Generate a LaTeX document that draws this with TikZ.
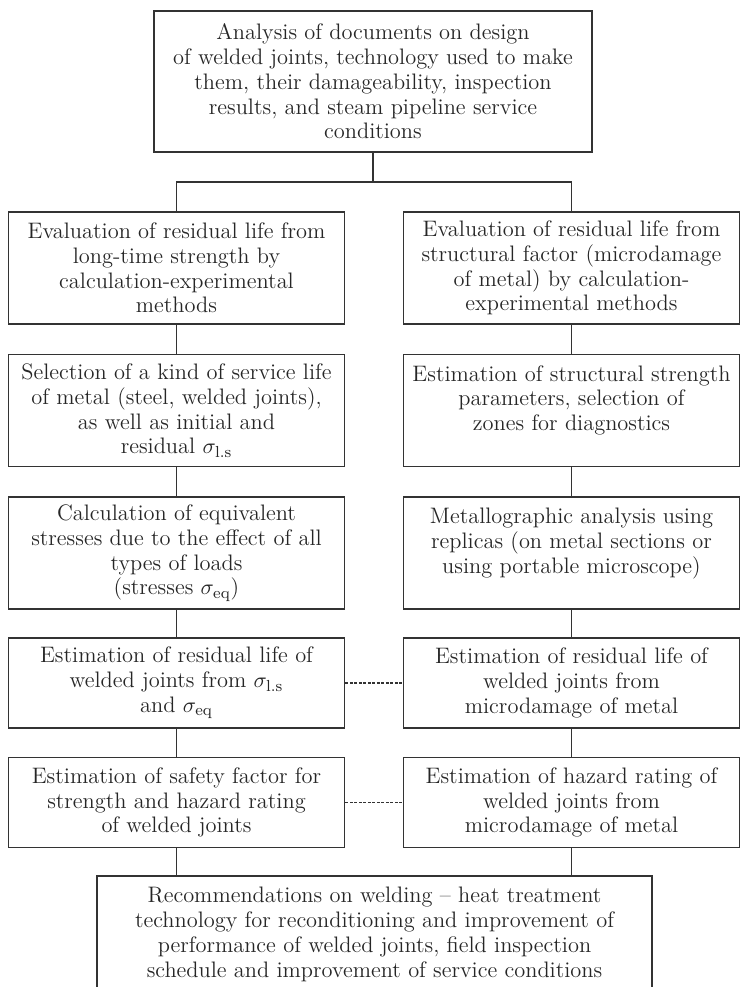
\documentclass[tikz,border=0pt]{standalone}
\begin{document}
\begin{tikzpicture}[x=0.5pt,y=-0.5pt,line width=0.8pt,black!80,
  box/.style={draw,align=center,inner sep=0pt,text=black!85,
    font=\fontsize{11.2}{12.4}\selectfont},
  col/.style={box,minimum width=168pt},
  tall/.style={col,minimum height=56pt},
  short/.style={col,minimum height=45pt},
  link/.style={dash pattern=on 1.5pt off 0.75pt}]
\useasboundingbox (0,0) rectangle (740,987);
% head
\node[box,minimum width=219pt,minimum height=70.5pt] (analysis) at (373,81.5)
  {Analysis of documents on design\\ of welded joints, technology used to make\\
   them, their damageability, inspection\\ results, and steam pipeline service\\ conditions};
\coordinate (split) at (373,182);
% left column
\node[tall] (evalL) at (176.5,268) {Evaluation of residual life from\\ long-time strength by\\
  calculation-experimental\\ methods};
\node[tall] (selL) at (176.5,410.5) {Selection of a kind of service life\\ of metal (steel, welded joints),\\
  as well as initial and\\ residual $\sigma_{\mathrm{l.s}}$};
\node[tall] (calcL) at (176.5,553) {Calculation of equivalent\\ stresses due to the effect of all\\
  types of loads\\ (stresses $\sigma_{\mathrm{eq}}$)};
\node[short] (estL) at (176.5,683) {Estimation of residual life of\\ welded joints from $\sigma_{\mathrm{l.s}}$\\
  and $\sigma_{\mathrm{eq}}$};
\node[short] (safeL) at (176.5,802.5) {Estimation of safety factor for\\ strength and hazard rating\\
  of welded joints};
% right column
\node[tall] (evalR) at (571.5,268) {Evaluation of residual life from\\ structural factor (microdamage\\
  of metal) by calculation-\\ experimental methods};
\node[tall] (paramR) at (571.5,410.5) {Estimation of structural strength\\ parameters, selection of\\
  zones for diagnostics\\ \mbox{}};
\node[tall] (metalR) at (571.5,553) {Metallographic analysis using\\ replicas (on metal sections or\\
  using portable microscope)\\ \mbox{}};
\node[short] (estR) at (571.5,683) {Estimation of residual life of\\ welded joints from\\
  microdamage of metal};
\node[short] (hazR) at (571.5,802.5) {Estimation of hazard rating of\\ welded joints from\\
  microdamage of metal};
% foot
\node[box,minimum width=277.5pt,minimum height=58.5pt] (recom) at (374.5,934.5)
  {Recommendations on welding -- heat treatment\\ technology for reconditioning and improvement of\\
   performance of welded joints, field inspection\\ schedule and improvement of service conditions};

\draw (analysis) -- (split);
\draw (evalL.north) |- (split) -| (evalR.north);
\foreach \a/\b in {evalL/selL,selL/calcL,calcL/estL,estL/safeL,
                   evalR/paramR,paramR/metalR,metalR/estR,estR/hazR}
  \draw (\a) -- (\b);
\draw[link] (estL) -- (estR);
\draw[link] (safeL) -- (hazR);
\draw (safeL.south) -- (safeL.south |- recom.north);
\draw (hazR.south) -- (hazR.south |- recom.north);
\end{tikzpicture}
\end{document}
